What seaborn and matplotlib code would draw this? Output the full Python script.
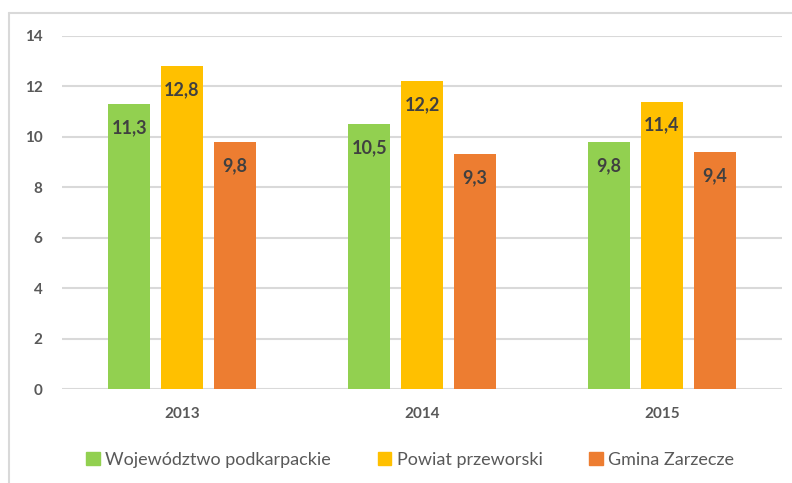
import pandas as pd
import numpy as np
from matplotlib import pyplot as plt
from matplotlib.lines import Line2D
import seaborn as sns

years = ['2013', '2014', '2015']
regions = ['Województwo podkarpackie', 'Powiat przeworski', 'Gmina Zarzecze']
woj = [11.3, 10.5, 9.8]
pow_ = [12.8, 12.2, 11.4]
gmina = [9.8, 9.3, 9.4]
colors = ['#92D050', '#FFC000', '#ED7D31']

# long table for seaborn
df = pd.DataFrame({
    'year': years * 3,
    'region': [regions[0]] * 3 + [regions[1]] * 3 + [regions[2]] * 3,
    'value': woj + pow_ + gmina,
})

sns.set_style('white')
plt.rcParams['font.family'] = ['Lato', 'DejaVu Sans']

fig = plt.figure(figsize=(7.92, 4.83), dpi=100)
ax = fig.add_axes([0.0783, 0.1946, 0.9091, 0.7309])

sns.barplot(data=df, x='year', y='value', hue='region', hue_order=regions,
            palette=colors, width=0.66, gap=0.2, ax=ax, legend=False,
            saturation=1, edgecolor='none')

for cont in ax.containers:
    ax.bar_label(cont, labels=[f'{v:.1f}'.replace('.', ',') for v in cont.datavalues],
                 padding=-23, fontsize=13, fontweight='bold', color='#404040')

ax.set_ylim(0, 14)
ax.set_xlim(-0.5, 2.5)
ax.set_yticks(range(0, 15, 2))
ax.yaxis.grid(True, color='#d9d9d9', linewidth=1.5)
ax.set_axisbelow(True)
for s in ax.spines.values():
    s.set_visible(False)
ax.set_xlabel('')
ax.set_ylabel('')
ax.tick_params(axis='both', length=0, labelsize=11, labelcolor='#595959')
ax.tick_params(axis='x', pad=13)
ax.tick_params(axis='y', pad=14)
for lbl in ax.get_xticklabels() + ax.get_yticklabels():
    lbl.set_fontweight('bold')

handles = [plt.Rectangle((0, 0), 1, 1, color=c) for c in colors]
fig.legend(handles, regions, loc='center', bbox_to_anchor=(0.518, 0.048), ncol=3,
           frameon=False, fontsize=13, labelcolor='#595959',
           handlelength=0.75, handleheight=0.75, handletextpad=0.3, columnspacing=2.6)

# outer chart frame (left and top edges visible)
fig.add_artist(Line2D([9 / 792, 9 / 792], [0, 1 - 13 / 483], transform=fig.transFigure,
                      color='#d9d9d9', linewidth=1.5))
fig.add_artist(Line2D([9 / 792, 1], [1 - 13 / 483, 1 - 13 / 483], transform=fig.transFigure,
                      color='#d9d9d9', linewidth=1.5))

fig.savefig('out.png', dpi=100)
